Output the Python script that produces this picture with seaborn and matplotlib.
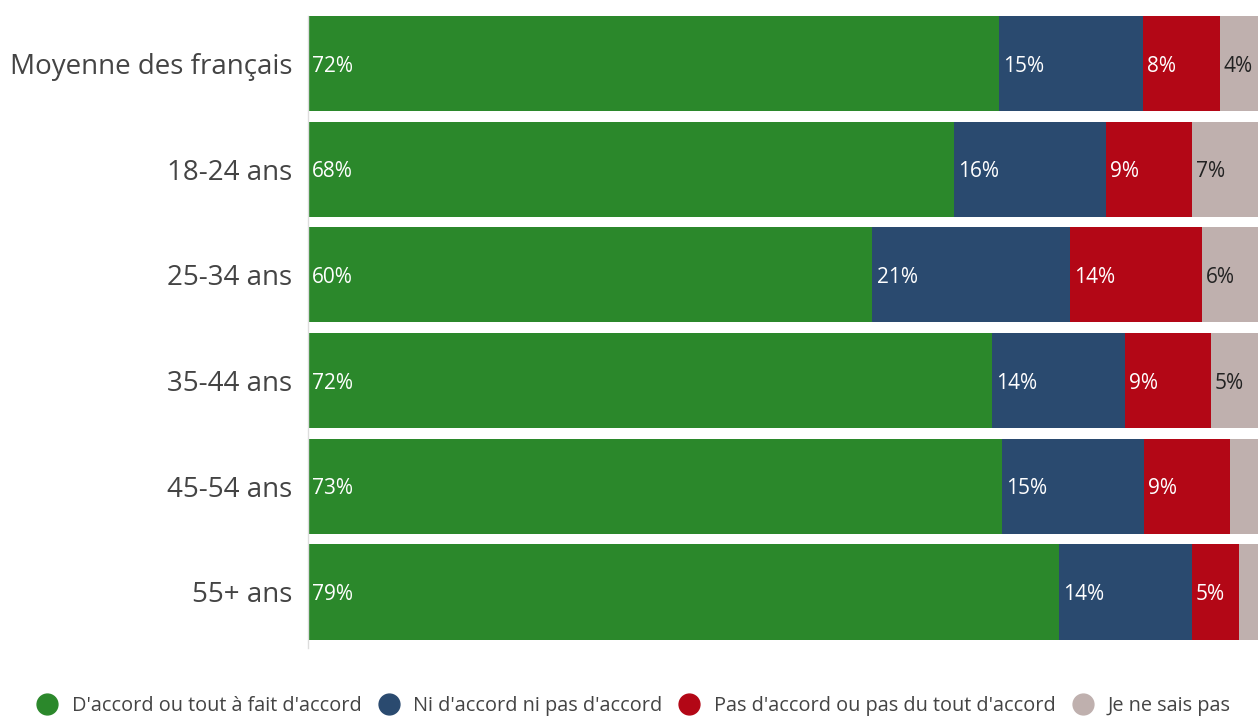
import numpy as np
import pandas as pd
import matplotlib
matplotlib.use('Agg')
import matplotlib.pyplot as plt
import seaborn as sns
from matplotlib.lines import Line2D

# données
categories = ['Moyenne des français', '18-24 ans', '25-34 ans', '35-44 ans', '45-54 ans', '55+ ans']
series = ["D'accord ou tout à fait d'accord", "Ni d'accord ni pas d'accord",
          "Pas d'accord ou pas du tout d'accord", "Je ne sais pas"]
accord = [72, 68, 60, 72, 73, 79]
neutre = [15, 16, 21, 14, 15, 14]
pas_accord = [8, 9, 14, 9, 9, 5]
nsp = [4, 7, 6, 5, 3, 2]
colors = ['#2b882b', '#2a4a6f', '#b30716', '#bfb0ae']
text_colors = ['white', 'white', 'white', '#222222']

sns.set_theme(style='white')
plt.rcParams['font.family'] = ['Open Sans', 'DejaVu Sans']

df = pd.DataFrame({'cat': categories, series[0]: accord, series[1]: neutre,
                   series[2]: pas_accord, series[3]: nsp})
vals = df[series].to_numpy(dtype=float)
# barres ramenées à 100 %
share = vals / vals.sum(axis=1, keepdims=True) * 100
cum = np.cumsum(share, axis=1)

fig = plt.figure(figsize=(12.58, 7.16), dpi=100)
ax = fig.add_axes([308 / 1258, 68 / 716, 950 / 1258, 632 / 716])

# on dessine du plus long au plus court pour empiler
for k in range(len(series) - 1, -1, -1):
    sns.barplot(x=cum[:, k], y=df['cat'], color=colors[k], orient='h',
                width=0.9, ax=ax, saturation=1, linewidth=0)

for i in range(len(categories)):
    for k in range(len(series)):
        if vals[i, k] < 4:
            continue
        start = cum[i, k] - share[i, k]
        ax.text(start + 0.45, i, '%d%%' % vals[i, k], va='center_baseline', ha='left',
                color=text_colors[k], fontsize=15)

ax.set_xlim(0, 100)
ax.set_ylim(5.53, -0.45)
ax.set_xlabel('')
ax.set_ylabel('')
ax.set_xticks([])
ax.tick_params(axis='y', length=0, pad=11.5, labelsize=20, labelcolor='#444444')
for s in ['top', 'right', 'bottom']:
    ax.spines[s].set_visible(False)
ax.spines['left'].set_color('#dddddd')
ax.spines['left'].set_linewidth(1)

handles = [Line2D([], [], marker='o', linestyle='', markersize=15,
                  markerfacecolor=c, markeredgecolor=c) for c in colors]
fig.legend(handles, series, loc='center', bbox_to_anchor=(634 / 1258, 1 - 706 / 716),
           ncol=4, frameon=False, fontsize=14.3, handlelength=1.0, handletextpad=0.75,
           columnspacing=0.85, labelcolor='#444444')

fig.savefig('out.png', dpi=100)
